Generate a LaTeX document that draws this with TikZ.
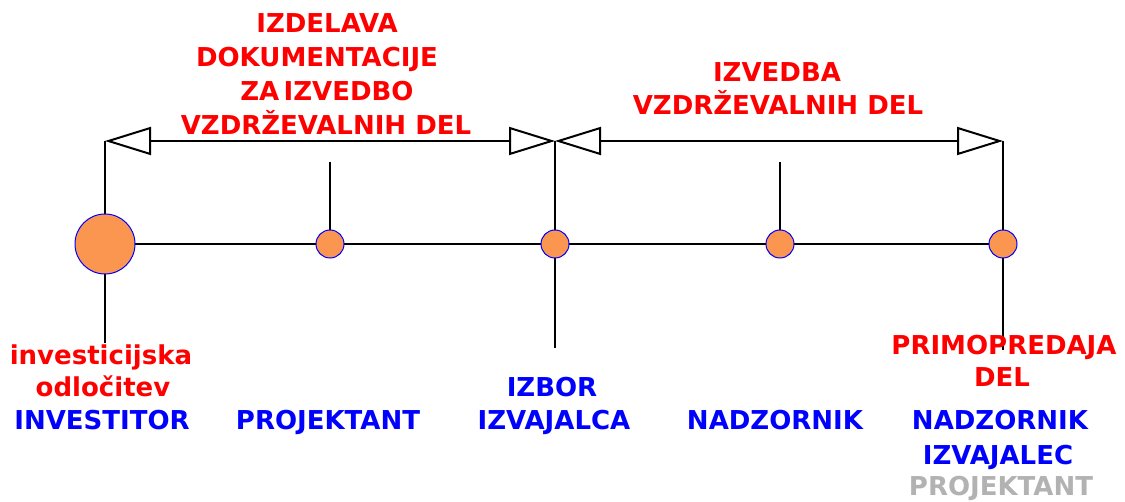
\documentclass[tikz,border=0pt]{standalone}
\usepackage{fontspec}
\setmainfont{DejaVu Sans}
\usetikzlibrary{arrows.meta}
\definecolor{dotfill}{RGB}{250,150,80}
\definecolor{phase}{RGB}{255,0,0}
\definecolor{role}{RGB}{0,0,255}
\definecolor{faded}{RGB}{178,178,178}
\tikzset{
  txt/.style={inner sep=0pt, anchor=base, font=\bfseries\fontsize{26}{33}\selectfont},
  phasetxt/.style={txt, text=phase},
  roletxt/.style={txt, text=role},
  wire/.style={line width=2pt, black},
  span/.style={wire, {Triangle[open, length=46pt, width=28pt]}-{Triangle[open, length=46pt, width=28pt]}},
  milestone/.style={circle, fill=dotfill, draw=role, line width=1pt, inner sep=0pt, minimum size=#1},
}
\begin{document}
\begin{tikzpicture}[x=1pt, y=-1pt]
\useasboundingbox (0,0) rectangle (1125,502);

% timeline points
\coordinate (p1) at (105,244);
\coordinate (p2) at (330,244);
\coordinate (p3) at (555,244);
\coordinate (p4) at (780,244);
\coordinate (p5) at (1003,244);
% span ends and tick ends
\coordinate (t1) at (105,141);
\coordinate (t2) at (555,141);
\coordinate (t3) at (1003,141);
\coordinate (m2) at (330,162);
\coordinate (m4) at (780,162);
\coordinate (b1) at (105,343);
\coordinate (b3) at (555,348);
\coordinate (b5) at (1003,350);

% connectors
\draw[wire] (p1) -- (p5);
\draw[wire] (t1) -- (b1);
\draw[wire] (t2) -- (b3);
\draw[wire] (t3) -- (b5);
\draw[wire] (m2) -- (p2);
\draw[wire] (m4) -- (p4);
\draw[span] (t1) -- (t2);
\draw[span] (t2) -- (t3);

% milestones
\node[milestone=60pt] (c1) at (p1) {};
\node[milestone=28pt] (c2) at (p2) {};
\node[milestone=28pt] (c3) at (p3) {};
\node[milestone=28pt] (c4) at (p4) {};
\node[milestone=28pt] (c5) at (p5) {};

% phase labels
\node[phasetxt] (a1) at (327,33) {IZDELAVA};
\node[phasetxt] (a2) at (317,67) {DOKUMENTACIJE};
\node[phasetxt] (a3) at (327,101) {ZA\,IZVEDBO};
\node[phasetxt] (a4) at (326,135) {VZDRŽEVALNIH DEL};
\node[phasetxt] (e1) at (777,82) {IZVEDBA};
\node[phasetxt] (e2) at (778,115) {VZDRŽEVALNIH DEL};

% milestone labels
\node[phasetxt] (d1) at (101,365) {investicijska};
\node[phasetxt] (d2) at (103,397) {odločitev};
\node[roletxt] (r1) at (102,430) {INVESTITOR};
\node[roletxt] (r2) at (328,430) {PROJEKTANT};
\node[roletxt] (r3) at (552,397) {IZBOR};
\node[roletxt] (r4) at (554,430) {IZVAJALCA};
\node[roletxt] (r5) at (775,430) {NADZORNIK};
\node[phasetxt] (h1) at (1004,355) {PRIMOPREDAJA};
\node[phasetxt] (h2) at (1002,387) {DEL};
\node[roletxt] (r6) at (1000,430) {NADZORNIK};
\node[roletxt] (r7) at (998,465) {IZVAJALEC};
\node[txt, text=faded] (r8) at (1001,496) {PROJEKTANT};
\end{tikzpicture}
\end{document}
